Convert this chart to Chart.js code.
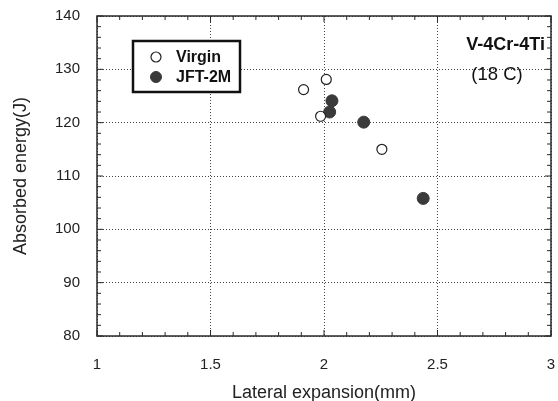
<!DOCTYPE html>
<html>
<head>
<meta charset="utf-8">
<script src="https://cdn.jsdelivr.net/npm/chart.js@4.4.1/dist/chart.umd.min.js"></script>
<style>
html,body{margin:0;padding:0;background:#fff;}
#wrap{width:558px;height:401px;}
</style>
</head>
<body>
<div id="wrap"><canvas id="c" width="558" height="401"></canvas></div>
<script>
// Data
const virginX = [1.91, 2.01, 1.985, 2.255];
const virginY = [126.2, 128.1, 121.2, 115.0];
const jftX = [2.035, 2.025, 2.175, 2.437];
const jftY = [124.1, 122.0, 120.1, 105.8];
const seriesNames = ['Virgin', 'JFT-2M'];
const xTicks = [1, 1.5, 2, 2.5, 3];
const yTicks = [80, 90, 100, 110, 120, 130, 140];
const xMinor = [1.1,1.2,1.3,1.4,1.6,1.7,1.8,1.9,2.1,2.2,2.3,2.4,2.6,2.7,2.8,2.9];
const yMinor = [82,84,86,88,92,94,96,98,102,104,106,108,112,114,116,118,122,124,126,128,132,134,136,138];
const xTitle = 'Lateral expansion(mm)';
const yTitle = 'Absorbed energy(J)';
const note1 = 'V-4Cr-4Ti';
const note2 = '(18 C)';

const FONT = "'Liberation Sans', Arial, Helvetica, sans-serif";
const AXC = '#2a2a2a';

function toPts(xs, ys){ return xs.map((x,i)=>({x:x, y:ys[i]})); }

const decor = {
  id: 'decor',
  afterDraw(chart){
    const ctx = chart.ctx, a = chart.chartArea;
    const xs = chart.scales.x, ys = chart.scales.y;
    ctx.save();
    // frame
    ctx.strokeStyle = AXC; ctx.lineWidth = 1.5;
    ctx.strokeRect(a.left, a.top, a.right - a.left, a.bottom - a.top);
    // ticks (inward, all sides)
    ctx.lineWidth = 1;
    const tick = (len, arrX, arrY) => {
      arrX.forEach(v => {
        const p = xs.getPixelForValue(v);
        ctx.beginPath(); ctx.moveTo(p, a.bottom); ctx.lineTo(p, a.bottom - len); ctx.stroke();
        ctx.beginPath(); ctx.moveTo(p, a.top); ctx.lineTo(p, a.top + len); ctx.stroke();
      });
      arrY.forEach(v => {
        const p = ys.getPixelForValue(v);
        ctx.beginPath(); ctx.moveTo(a.left, p); ctx.lineTo(a.left + len, p); ctx.stroke();
        ctx.beginPath(); ctx.moveTo(a.right, p); ctx.lineTo(a.right - len, p); ctx.stroke();
      });
    };
    tick(4, xMinor, yMinor);
    tick(6, xTicks, yTicks);
    // legend box
    const lx = 133, ly = 41, lw = 107, lh = 51;
    ctx.fillStyle = '#fff';
    ctx.fillRect(lx, ly, lw, lh);
    ctx.strokeStyle = '#111'; ctx.lineWidth = 2.5;
    ctx.strokeRect(lx, ly, lw, lh);
    const ds = chart.data.datasets;
    const rows = [57, 77];
    ds.forEach((d, i) => {
      ctx.beginPath();
      ctx.arc(156, rows[i], i === 0 ? 5 : 5.5, 0, Math.PI * 2);
      ctx.fillStyle = d.backgroundColor; ctx.fill();
      ctx.lineWidth = d.borderWidth; ctx.strokeStyle = d.borderColor; ctx.stroke();
      ctx.fillStyle = '#111';
      ctx.font = 'bold 16px ' + FONT;
      ctx.textBaseline = 'middle'; ctx.textAlign = 'left';
      ctx.fillText(d.label, 176, rows[i] + 1);
    });
    // annotation text
    ctx.fillStyle = '#111';
    ctx.textAlign = 'right'; ctx.textBaseline = 'middle';
    ctx.font = 'bold 18px ' + FONT;
    ctx.fillText(note1, 545, 45);
    ctx.textAlign = 'center';
    ctx.font = '18.5px ' + FONT;
    ctx.fillText(note2, 497, 75);
    ctx.restore();
  }
};

new Chart(document.getElementById('c'), {
  type: 'scatter',
  data: {
    datasets: [
      { label: seriesNames[0], data: toPts(virginX, virginY),
        pointRadius: 5, pointHoverRadius: 5, backgroundColor: '#ffffff',
        borderColor: '#222', borderWidth: 1.2 },
      { label: seriesNames[1], data: toPts(jftX, jftY),
        pointRadius: 6, pointHoverRadius: 6, backgroundColor: '#3a3a3a',
        borderColor: '#3a3a3a', borderWidth: 1 }
    ]
  },
  plugins: [decor],
  options: {
    responsive: false,
    animation: false,
    devicePixelRatio: 1,
    layout: { padding: { left: 0, right: 5, top: 16, bottom: 0 } },
    plugins: { legend: { display: false }, tooltip: { enabled: false } },
    scales: {
      x: {
        type: 'linear', min: 1, max: 3,
        afterBuildTicks: s => { s.ticks = xTicks.map(v => ({ value: v })); },
        afterFit: s => { s.height = 65; s.paddingLeft = 0; s.paddingRight = 0; },
        ticks: { font: { family: FONT, size: 15 }, color: '#222', padding: 20,
                 maxRotation: 0, callback: v => String(v) },
        grid: { drawTicks: false, color: '#444', lineWidth: 1 },
        border: { display: false, dash: [1, 2] },
        title: { display: true, text: xTitle, color: '#222',
                 font: { family: FONT, size: 18, lineHeight: 0.9 }, padding: { top: 0, bottom: 0 } }
      },
      y: {
        type: 'linear', min: 80, max: 140,
        afterBuildTicks: s => { s.ticks = yTicks.map(v => ({ value: v })); },
        afterFit: s => { s.width = 97; s.paddingTop = 0; s.paddingBottom = 0; },
        ticks: { font: { family: FONT, size: 15 }, color: '#222', padding: 17 },
        grid: { drawTicks: false, color: '#444', lineWidth: 1 },
        border: { display: false, dash: [1, 2] },
        title: { display: true, text: yTitle, color: '#222',
                 font: { family: FONT, size: 18 }, padding: { top: 10, bottom: 0 } }
      }
    }
  }
});
</script>
</body>
</html>
